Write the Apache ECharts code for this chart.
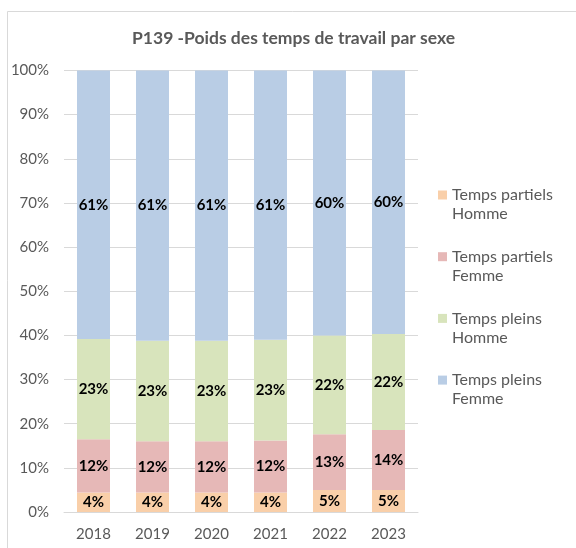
<!DOCTYPE html>
<html>
<head>
<meta charset="utf-8">
<script src="https://cdn.jsdelivr.net/npm/echarts@6/dist/echarts.min.js"></script>
<style>
html,body{margin:0;padding:0;background:#fff;}
#chart{width:576px;height:548px;}
</style>
</head>
<body>
<div id="chart"></div>
<script>
var categories = ['2018', '2019', '2020', '2021', '2022', '2023'];
var partielsHomme = [4.4, 4.4, 4.4, 4.4, 5.0, 5.0];
var partielsFemme = [12.1, 11.6, 11.6, 11.8, 12.6, 13.6];
var pleinsHomme = [22.7, 22.8, 22.8, 22.8, 22.4, 21.7];
var pleinsFemme = [60.8, 61.2, 61.2, 61.0, 60.0, 59.7];
var seriesNames = ['Temps partiels\nHomme', 'Temps partiels\nFemme', 'Temps pleins\nHomme', 'Temps pleins\nFemme'];
var seriesColors = ['#F9CFA9', '#E6B8B7', '#D8E4BC', '#B9CDE5'];
var titleText = 'P139 -Poids des temps de travail par sexe';

var FONT = 'Lato';
var chart = echarts.init(document.getElementById('chart'), null, {renderer: 'canvas'});

function mkSeries(name, data, color) {
  return {
    name: name,
    type: 'bar',
    stack: 'total',
    barWidth: 33,
    data: data,
    itemStyle: {color: color},
    label: {
      show: true,
      position: 'inside',
      formatter: function (p) { return Math.round(p.value) + '%'; },
      color: '#000',
      fontFamily: FONT,
      fontWeight: 'bold',
      fontSize: 15
    }
  };
}

var option = {
  animation: false,
  backgroundColor: '#fff',
  graphic: [{
    type: 'rect',
    shape: {x: 7.5, y: 11.5, width: 700, height: 700},
    style: {fill: 'none', stroke: '#D9D9D9', lineWidth: 1},
    z: -10
  }],
  title: {
    text: titleText,
    left: 132,
    top: 29,
    padding: 0,
    textStyle: {fontFamily: FONT, fontWeight: 'bold', fontSize: 17.5, color: '#595959'}
  },
  legend: {
    orient: 'vertical',
    left: 438,
    top: 166.5,
    padding: 0,
    itemWidth: 9,
    itemHeight: 9,
    itemGap: 4.7,
    icon: 'rect',
    data: [seriesNames[0], seriesNames[1], seriesNames[2], seriesNames[3]],
    formatter: function (n) { return '\n' + n; },
    textStyle: {fontFamily: FONT, fontSize: 16, color: '#595959', lineHeight: 19}
  },
  grid: {left: 64, right: 158, top: 70.5, bottom: 36, containLabel: false},
  xAxis: {
    type: 'category',
    data: categories,
    axisLine: {show: true, lineStyle: {color: '#D9D9D9'}},
    axisTick: {show: false},
    axisLabel: {color: '#595959', fontFamily: FONT, fontSize: 15, margin: 15}
  },
  yAxis: {
    type: 'value',
    min: 0,
    max: 100,
    interval: 10,
    axisLine: {show: false},
    axisTick: {show: false},
    splitLine: {lineStyle: {color: '#D9D9D9'}},
    axisLabel: {color: '#595959', fontFamily: FONT, fontSize: 15, margin: 15, formatter: '{value}%'}
  },
  series: [
    mkSeries(seriesNames[0], partielsHomme, seriesColors[0]),
    mkSeries(seriesNames[1], partielsFemme, seriesColors[1]),
    mkSeries(seriesNames[2], pleinsHomme, seriesColors[2]),
    mkSeries(seriesNames[3], pleinsFemme, seriesColors[3])
  ]
};
chart.setOption(option);
</script>
</body>
</html>
